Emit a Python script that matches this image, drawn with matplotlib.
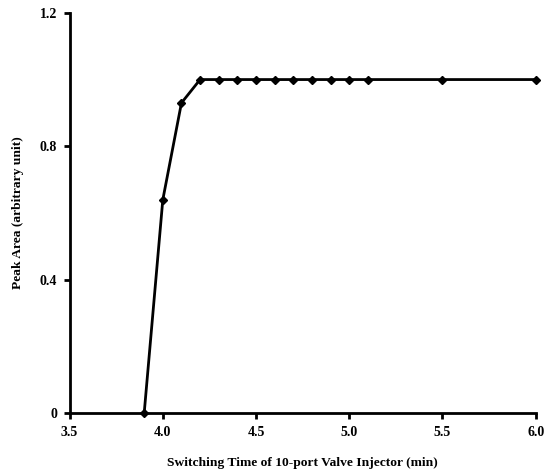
import matplotlib
matplotlib.use("Agg")
import matplotlib.pyplot as plt

# switching time (min) vs relative peak area
switch_time = [3.9, 4.0, 4.1, 4.2, 4.3, 4.4, 4.5, 4.6, 4.7, 4.8, 4.9, 5.0, 5.1, 5.5, 6.0]
peak_area = [0.0, 0.64, 0.93, 1.0, 1.0, 1.0, 1.0, 1.0, 1.0, 1.0, 1.0, 1.0, 1.0, 1.0, 1.0]

x_ticks = [3.5, 4.0, 4.5, 5.0, 5.5, 6.0]
y_ticks = [0, 0.4, 0.8, 1.2]
y_labels = ["0", "0.4", "0.8", "1.2"]

plt.rcParams['font.family'] = ['Liberation Serif', 'DejaVu Serif']
plt.rcParams['font.weight'] = 'bold'

fig = plt.figure(figsize=(5.48, 4.74), dpi=100)
ax = fig.add_axes([0.127, 0.128, 0.8505, 0.845])

ax.plot(switch_time, peak_area, color='black', linewidth=2, marker='D', markersize=4.5,
        clip_on=False, zorder=3)

ax.set_xlim(3.5, 6.0)
ax.set_ylim(0, 1.2)
ax.set_xticks(x_ticks)
ax.set_xticklabels([f"{t:.1f}" for t in x_ticks])
ax.set_yticks(y_ticks)
ax.set_yticklabels(y_labels)

for side in ['top', 'right']:
    ax.spines[side].set_visible(False)
for side in ['left', 'bottom']:
    ax.spines[side].set_linewidth(2)

ax.tick_params(direction='out', length=4, width=2, labelsize=10, pad=5)
for lab in ax.get_xticklabels() + ax.get_yticklabels():
    lab.set_fontweight('bold')

ax.set_xlabel("Switching Time of 10-port Valve Injector (min)", fontsize=9.7, fontweight='bold', labelpad=13)
ax.set_ylabel("Peak Area (arbitrary unit)", fontsize=9.7, fontweight='bold', labelpad=11)

fig.savefig("out.png", dpi=100)
